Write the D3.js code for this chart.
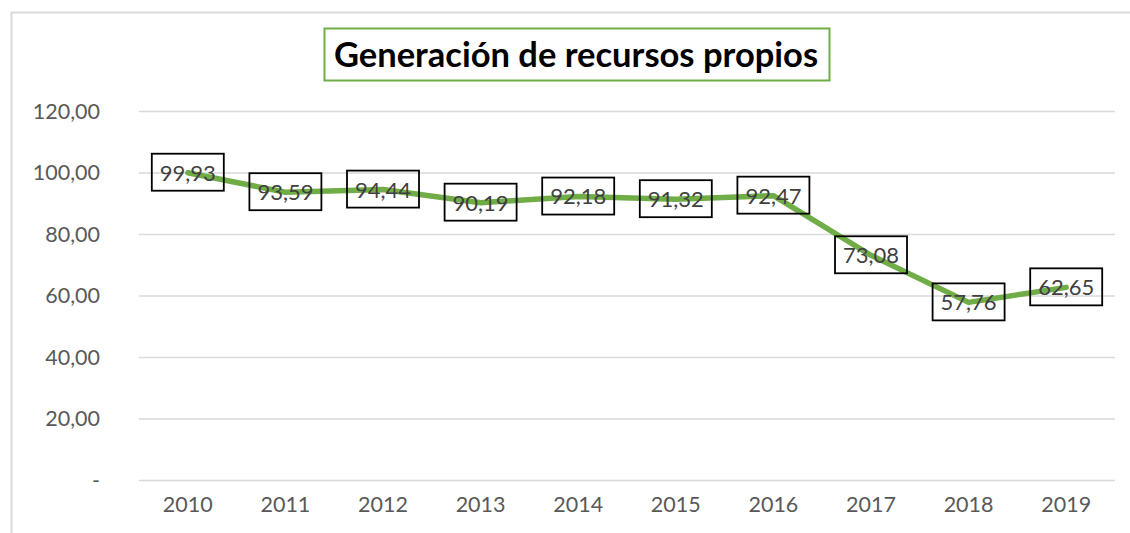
<!DOCTYPE html>
<html>
<head>
<meta charset="utf-8">
<title>Generación de recursos propios</title>
<script src="https://d3js.org/d3.v7.min.js"></script>
<style>
  body { margin: 0; background: #fff; font-family: "Lato", "Open Sans", sans-serif; }
  svg { display: block; }
  .grid line { stroke: #d9d9d9; stroke-width: 1.5; }
  .grid .domain { display: none; }
</style>
</head>
<body>
<script>
const years = ["2010", "2011", "2012", "2013", "2014", "2015", "2016", "2017", "2018", "2019"];
const values = [99.93, 93.59, 94.44, 90.19, 92.18, 91.32, 92.47, 73.08, 57.76, 62.65];
const yTicks = [0, 20, 40, 60, 80, 100, 120];
const title = "Generación de recursos propios";

const W = 1130, H = 533;
const plot = { left: 139, right: 1115, top: 111, bottom: 480 };

const svg = d3.select("body").append("svg")
  .attr("width", W).attr("height", H);

// chart area border (left and top visible only)
svg.append("rect")
  .attr("x", 11.5).attr("y", 12.5)
  .attr("width", W + 20).attr("height", H + 20)
  .attr("fill", "none").attr("stroke", "#d9d9d9").attr("stroke-width", 2);

const x = d3.scaleBand().domain(years).range([plot.left, plot.right]);
const y = d3.scaleLinear().domain([0, 120]).range([plot.bottom, plot.top]);

const fmt = v => v === 0 ? "-" : d3.format(".2f")(v).replace(".", ",");

// gridlines
svg.append("g")
  .attr("class", "grid")
  .attr("transform", `translate(${plot.left},0)`)
  .call(d3.axisLeft(y).tickValues(yTicks).tickSize(-(plot.right - plot.left)).tickFormat(""));

// y labels
svg.append("g").selectAll("text")
  .data(yTicks).join("text")
  .attr("x", 100)
  .attr("y", d => y(d))
  .attr("dy", "0.36em")
  .attr("text-anchor", "end")
  .attr("font-size", 21.5)
  .attr("fill", "#595959")
  .text(fmt);

// x labels
svg.append("g").selectAll("text")
  .data(years).join("text")
  .attr("x", d => x(d) + x.bandwidth() / 2)
  .attr("y", 512)
  .attr("text-anchor", "middle")
  .attr("font-size", 21.5)
  .attr("fill", "#595959")
  .text(d => d);

// line
const line = d3.line()
  .x((d, i) => x(years[i]) + x.bandwidth() / 2)
  .y(d => y(d));

svg.append("path")
  .datum(values)
  .attr("d", line)
  .attr("fill", "none")
  .attr("stroke", "#70ad47")
  .attr("stroke-width", 5.5)
  .attr("stroke-linejoin", "round")
  .attr("stroke-linecap", "round");

// data labels
const lab = svg.append("g").selectAll("g")
  .data(values).join("g")
  .attr("transform", (d, i) => `translate(${x(years[i]) + x.bandwidth() / 2},${y(d)})`);

lab.append("rect")
  .attr("x", -36).attr("y", -19)
  .attr("width", 72).attr("height", 37)
  .attr("fill", "none").attr("stroke", "#000").attr("stroke-width", 1.8);

lab.append("text")
  .attr("text-anchor", "middle")
  .attr("dy", "0.36em")
  .attr("font-size", 22)
  .attr("fill", "#404040")
  .text(fmt);

// title
const tg = svg.append("g");
tg.append("rect")
  .attr("x", 324.5).attr("y", 28.5)
  .attr("width", 505).attr("height", 52)
  .attr("fill", "#fff").attr("stroke", "#70ad47").attr("stroke-width", 2);
tg.append("text")
  .attr("x", 576).attr("y", 55)
  .attr("dy", "0.36em")
  .attr("text-anchor", "middle")
  .attr("font-size", 34.5)
  .attr("font-weight", "bold")
  .attr("fill", "#000")
  .text(title);
</script>
</body>
</html>
